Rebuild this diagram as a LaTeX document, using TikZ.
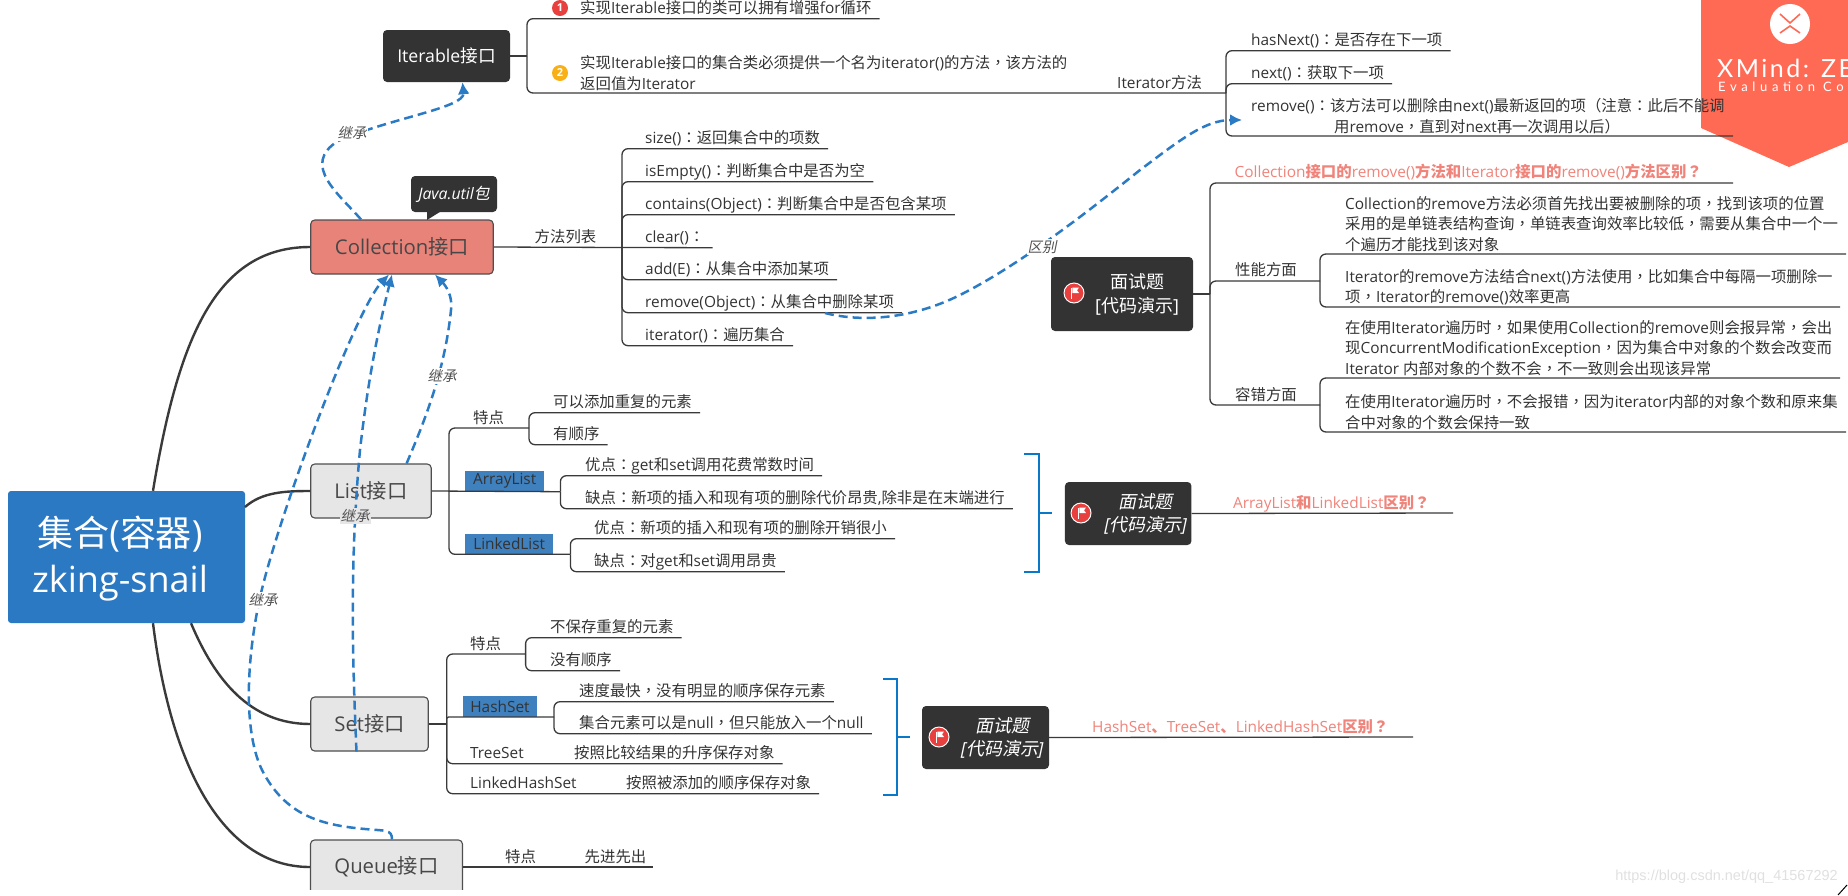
\documentclass[tikz,border=0pt]{standalone}
\usepackage{fontspec}
\usetikzlibrary{arrows.meta}
\setmainfont{Open Sans}
\newfontfamily\cjk{Noto Sans CJK SC}[AutoFakeSlant=0.2]
\newfontfamily\cjkpunct{Noto Sans CJK TC}[AutoFakeSlant=0.2]
\newfontfamily\bannerfont{Lato}[LetterSpace=10]
\newfontfamily\markfont{Liberation Sans}
\def\cjkact{\cjk}
\def\punctact{\cjkpunct}
\def\latinact{\rmfamily}
\chardef\cjkclass=200
\chardef\punctclass=201
\newcount\cjkcode
\cjkcode="3000
\loop\XeTeXcharclass\cjkcode=\cjkclass\advance\cjkcode by 1 \ifnum\cjkcode<"A000 \repeat
\cjkcode="FF00
\loop\XeTeXcharclass\cjkcode=\punctclass\advance\cjkcode by 1 \ifnum\cjkcode<"FFF0 \repeat
\XeTeXinterchartokenstate=1
\XeTeXinterchartoks 0 \cjkclass={\cjkact}
\XeTeXinterchartoks 4095 \cjkclass={\cjkact}
\XeTeXinterchartoks \punctclass \cjkclass={\cjkact}
\XeTeXinterchartoks 0 \punctclass={\punctact}
\XeTeXinterchartoks 4095 \punctclass={\punctact}
\XeTeXinterchartoks \cjkclass \punctclass={\punctact}
\XeTeXinterchartoks \cjkclass 0 ={\latinact}
\XeTeXinterchartoks \cjkclass 4095 ={\latinact}
\XeTeXinterchartoks \punctclass 0 ={\latinact}
\XeTeXinterchartoks \punctclass 4095 ={\latinact}
\definecolor{rootblue}{HTML}{2B79C2}
\definecolor{topicgray}{HTML}{E6E6E6}
\definecolor{collred}{HTML}{E8837A}
\definecolor{boxdark}{HTML}{333333}
\definecolor{tagblue}{HTML}{3F80BE}
\definecolor{arrowblue}{HTML}{2B7BC4}
\definecolor{bracketblue}{HTML}{0A78C8}
\definecolor{linedark}{HTML}{3A3A3A}
\definecolor{textdark}{HTML}{333333}
\definecolor{headred}{HTML}{F0837A}
\definecolor{bannerred}{HTML}{FF6A55}
\definecolor{flagred}{HTML}{E8403F}
\definecolor{markorange}{HTML}{F8B016}
\tikzset{
  leaf/.style={anchor=west,inner xsep=0pt,inner ysep=4.7pt,text height=11.6pt,text depth=0pt,text=textdark,font=\fontsize{15.4}{20.5}\selectfont},
  leafm/.style={anchor=west,inner sep=0pt,align=left,text=textdark,font=\fontsize{15.4}{20.5}\selectfont},
  redhead/.style={leaf,text=headred,font=\fontsize{15.4}{20.5}\selectfont\def\cjkact{\cjk\bfseries}\def\punctact{\cjkpunct\bfseries}\def\latinact{\rmfamily\mdseries}},
  branch/.style={draw=linedark,line width=1.3pt,rounded corners=6pt},
  trunk/.style={draw=linedark,line width=2.4pt},
  topic/.style={rectangle,draw=linedark!90,line width=1.1pt,rounded corners=4pt,fill=topicgray,inner sep=0pt,text=textdark!90,font=\fontsize{20.3}{24}\selectfont},
  darkbox/.style={rectangle,rounded corners=4pt,fill=boxdark,inner sep=0pt},
  whitetext/.style={text=white,align=center,inner sep=0pt,font=\fontsize{18}{23.5}\selectfont},
  tag/.style={rectangle,fill=tagblue,inner sep=0pt,text=textdark,font=\fontsize{15.4}{20.5}\selectfont},
  inherit/.style={draw=arrowblue,line width=2.5pt,dash pattern=on 9pt off 5pt,-{Latex[length=12pt,width=12pt]}},
  inheritlabel/.style={inner sep=1pt,text=textdark!85,font=\fontsize{14.5}{18}\selectfont\itshape},
  bracket/.style={draw=bracketblue,line width=2.6pt},
  flagmark/.style={circle,fill=flagred,draw=white,line width=1pt,minimum size=20pt,inner sep=0pt},
  nummark/.style={circle,text=white,minimum size=16pt,inner sep=0pt,font=\fontsize{11}{11}\selectfont\bfseries},
}
\begin{document}
\begin{tikzpicture}[x=1pt,y=-1pt]
\useasboundingbox (0,0) rectangle (1848,895);

\fill[bannerred] (1701,0) -- (1701,128) -- (1789,167) -- (1848,142) -- (1848,0) -- cycle;
\node (logo) [circle,fill=white,minimum size=40pt,inner sep=0pt] at (1790,24) {};
\draw[bannerred,line width=1.6pt] (1780,14) -- (1790,23) -- (1800,14);
\draw[bannerred,line width=1.6pt] (1780,33) -- (1790,26) -- (1800,33);
\node (bannertitle) [anchor=west,inner sep=0pt,text=white,font=\bannerfont\fontsize{25}{25}\selectfont] at (1717,68) {XMind: ZEN};
\node (bannersub) [anchor=west,inner sep=0pt,text=white,font=\bannerfont\fontsize{13}{14}\selectfont\addfontfeature{LetterSpace=36}] at (1718,88) {Evaluation Copy};

\node (root) [rectangle,rounded corners=3pt,fill=rootblue,minimum width=237pt,minimum height=132pt,inner sep=0pt] at (126.5,557) {};
\node (rootlabel) [text=white,align=center,inner sep=0pt,font=\fontsize{36}{46}\selectfont] at (120,558.5) {集合(容器)\\zking-snail};

\node (iterable) [darkbox,minimum width=127pt,minimum height=52pt,text=white,font=\fontsize{17.7}{22}\selectfont] at (446.5,56) {Iterable接口};
\node (coll) [topic,fill=collred,minimum width=182.5pt,minimum height=54pt] at (402,247) {Collection接口};
\node (list) [topic,minimum width=120.5pt,minimum height=54pt] at (371,491) {List接口};
\node (set) [topic,minimum width=117.5pt,minimum height=54pt] at (369.5,724) {Set接口};
\node (queue) [topic,minimum width=152pt,minimum height=54pt] at (386.5,867) {Queue接口};
\fill[white] (300,890) rectangle (480,895);

\node (javanote) [darkbox,minimum width=86pt,minimum height=36pt,text=white,font=\fontsize{15.8}{20}\selectfont\itshape] at (454,194) {Java.util包};
\fill[boxdark] (427,220) -- (427,210) -- (443,210) -- cycle;

\draw[trunk] ([xshift=26.5pt]root.north) .. controls (178,340) and (215,247) .. (coll.west);
\draw[trunk] ([xshift=118.5pt,yshift=50pt]root.center) .. controls (262,492) and (285,491) .. (list.west);
\draw[trunk] ([xshift=64.5pt]root.south) .. controls (215,680) and (250,724) .. (set.west);
\draw[trunk] ([xshift=26.5pt]root.south) .. controls (170,760) and (220,867) .. (queue.west);

% Iterable
\coordinate (itfork) at (527,56);
\coordinate (iterfork) at (1226,93);
\node (mark1) [nummark,fill=flagred] at (560,8) {1};
\node (mark2) [nummark,fill=markorange] at (560,73) {2};
\node (iterone) [leaf] at (580,8) {实现Iterable接口的类可以拥有增强for循环};
\node (itertwo) [leafm] at (580,73) {实现Iterable接口的集合类必须提供一个名为iterator()的方法，该方法的\\返回值为Iterator};
\node (itermethods) [leaf] at (1117,83) {Iterator方法};
\draw[branch] (iterable.east) -- (itfork);
\draw[branch] (itfork) |- ([xshift=8pt]iterone.south east);
\draw[branch] (itfork) |- (iterfork);

\node (hasnext) [leaf] at (1251,40) {hasNext()：是否存在下一项};
\node (nextitem) [leaf] at (1251,73) {next()：获取下一项};
\node (removeit) [leafm] at (1251,116) {remove()：该方法可以删除由next()最新返回的项（注意：此后不能调\\\hspace*{83pt}用remove，直到对next再一次调用以后）};
\coordinate (removeend) at (1733,136);
\draw[branch] (iterfork) |- ([xshift=8pt]hasnext.south east);
\draw[branch] (iterfork) |- ([xshift=8pt]nextitem.south east);
\draw[branch] (iterfork) |- (removeend);

% Collection
\coordinate (mfork) at (622,247.5);
\node (methods) [leaf] at (534.5,237) {方法列表};
\node (msize) [leaf] at (645,138) {size()：返回集合中的项数};
\node (mempty) [leaf] at (645,171) {isEmpty()：判断集合中是否为空};
\node (mcontains) [leaf] at (645,204) {contains(Object)：判断集合中是否包含某项};
\node (mclear) [leaf] at (645,237) {clear()：};
\node (madd) [leaf] at (645,269) {add(E)：从集合中添加某项};
\node (mremove) [leaf] at (645,302) {remove(Object)：从集合中删除某项};
\node (miter) [leaf] at (645,335) {iterator()：遍历集合};
\draw[branch] (coll.east) -- (mfork);
\draw[branch] (mfork) |- ([xshift=8pt]msize.south east);
\draw[branch] (mfork) |- ([xshift=8pt]mempty.south east);
\draw[branch] (mfork) |- ([xshift=8pt]mcontains.south east);
\draw[branch] (mfork) -- ([xshift=8pt]mclear.south east);
\draw[branch] (mfork) |- ([xshift=8pt]madd.south east);
\draw[branch] (mfork) |- ([xshift=8pt]mremove.south east);
\draw[branch] (mfork) |- ([xshift=8pt]miter.south east);

% first interview question
\node (ivone) [darkbox,minimum width=142pt,minimum height=74pt] at (1122,294) {};
\node (ivonetext) [whitetext] at (1137,294.5) {面试题\\{[}代码演示{]}};
\node (flagone) [flagmark] at (1074,293) {};
\fill[white] (1071,287.5) rectangle (1072.4,298.5);
\fill[white] (1072.4,287.5) -- (1079,287.5) -- (1077,290.3) -- (1079,293) -- (1072.4,293) -- cycle;
\coordinate (ivfork) at (1210,294);
\coordinate (perffork) at (1320,281);
\coordinate (errfork) at (1320,405);
\coordinate (headend) at (1733,183);
\node (ivhead) [redhead] at (1234.5,172) {Collection接口的remove()方法和Iterator接口的remove()方法区别？};
\node (perflabel) [leaf] at (1235,270) {性能方面};
\node (errlabel) [leaf] at (1235,395) {容错方面};
\node (perfone) [leafm] at (1345,224) {Collection的remove方法必须首先找出要被删除的项，找到该项的位置\\采用的是单链表结构查询，单链表查询效率比较低，需要从集合中一个一\\个遍历才能找到该对象};
\node (perftwo) [leafm] at (1345,287) {Iterator的remove方法结合next()方法使用，比如集合中每隔一项删除一\\项，Iterator的remove()效率更高};
\node (errone) [leafm] at (1345,348) {在使用Iterator遍历时，如果使用Collection的remove则会报异常，会出\\现ConcurrentModificationException，因为集合中对象的个数会改变而\\Iterator 内部对象的个数不会，不一致则会出现该异常};
\node (errtwo) [leafm] at (1345,412) {在使用Iterator遍历时，不会报错，因为iterator内部的对象个数和原来集\\合中对象的个数会保持一致};
\coordinate (perfoneend) at (1846,254);
\coordinate (perftwoend) at (1840,307);
\coordinate (erroneend) at (1840,378);
\coordinate (errtwoend) at (1846,432);
\draw[branch] (ivone.east) -- (ivfork);
\draw[branch] (ivfork) |- (headend);
\draw[branch] (ivfork) |- (perffork);
\draw[branch] (ivfork) |- (errfork);
\draw[branch] (perffork) |- (perfoneend);
\draw[branch] (perffork) |- (perftwoend);
\draw[branch] (errfork) |- (erroneend);
\draw[branch] (errfork) |- (errtwoend);

% List
\coordinate (lfork) at (449,491.7);
\coordinate (lspecfork) at (529,428);
\coordinate (afork) at (560.4,491.7);
\coordinate (lkfork) at (570.4,554.3);
\node (lspec) [leaf] at (473,418) {特点};
\node (lspecone) [leaf] at (553,402) {可以添加重复的元素};
\node (lspectwo) [leaf] at (553,434) {有顺序};
\node (arraytag) [tag,minimum width=78.5pt,minimum height=20pt] at (504.7,481) {ArrayList};
\node (arrayone) [leaf] at (585,465) {优点：get和set调用花费常数时间};
\node (arraytwo) [leaf] at (585,498) {缺点：新项的插入和现有项的删除代价昂贵,除非是在末端进行};
\node (linktag) [tag,minimum width=87.5pt,minimum height=20pt] at (509.2,544) {LinkedList};
\node (linkone) [leaf] at (594,528) {优点：新项的插入和现有项的删除开销很小};
\node (linktwo) [leaf] at (594,561) {缺点：对get和set调用昂贵};
\draw[branch] (list.east) -- (afork);
\draw[branch] (lfork) |- (lspecfork);
\draw[branch] (lfork) |- (lkfork);
\draw[branch] (lspecfork) |- ([xshift=8pt]lspecone.south east);
\draw[branch] (lspecfork) |- ([xshift=8pt]lspectwo.south east);
\draw[branch] (afork) |- ([xshift=8pt]arrayone.south east);
\draw[branch] (afork) |- ([xshift=8pt]arraytwo.south east);
\draw[branch] (lkfork) |- ([xshift=8pt]linkone.south east);
\draw[branch] (lkfork) |- ([xshift=8pt]linktwo.south east);

\draw[bracket] (1024,454) -- (1039,454) -- (1039,572) -- (1024,572);
\draw[bracket] (1039,513) -- (1052,513);
\node (ivtwo) [darkbox,minimum width=126.5pt,minimum height=63pt] at (1128.2,513.5) {};
\node (ivtwotext) [whitetext,font=\fontsize{18}{23.5}\selectfont\itshape] at (1145.5,514) {面试题\\{[}代码演示{]}};
\node (flagtwo) [flagmark] at (1081,513) {};
\fill[white] (1078,507.5) rectangle (1079.4,518.5);
\fill[white] (1079.4,507.5) -- (1086,507.5) -- (1084,510.3) -- (1086,513) -- (1079.4,513) -- cycle;
\node (ivtwohead) [redhead] at (1233,503) {ArrayList和LinkedList区别？};
\coordinate (ivtwoend) at (1453,513);
\draw[branch] (ivtwo.east) -- (ivtwoend);

% Set
\coordinate (sfork) at (446.7,724);
\coordinate (sspecfork) at (525.6,654);
\coordinate (hfork) at (554,717);
\node (sspec) [leaf] at (470,644) {特点};
\node (sspecone) [leaf] at (550,627) {不保存重复的元素};
\node (sspectwo) [leaf] at (550,660) {没有顺序};
\node (hashtag) [tag,minimum width=74pt,minimum height=21pt] at (500,706.5) {HashSet};
\node (hashone) [leaf] at (579,691) {速度最快，没有明显的顺序保存元素};
\node (hashtwo) [leaf] at (579,723) {集合元素可以是null，但只能放入一个null};
\node (treeset) [leaf] at (470,753) {TreeSet};
\node (treetext) [leaf] at (574,753) {按照比较结果的升序保存对象};
\node (lhset) [leaf] at (470,783) {LinkedHashSet};
\node (lhtext) [leaf] at (626,783) {按照被添加的顺序保存对象};
\draw[branch] (set.east) -- (sfork);
\draw[branch] (sfork) |- (sspecfork);
\draw[branch,rounded corners=2pt] (sfork) |- (hfork);
\draw[branch] (sfork) |- ([xshift=8pt]treetext.south east);
\draw[branch] (sfork) |- ([xshift=8pt]lhtext.south east);
\draw[branch] (sspecfork) |- ([xshift=8pt]sspecone.south east);
\draw[branch] (sspecfork) |- ([xshift=8pt]sspectwo.south east);
\draw[branch] (hfork) |- ([xshift=8pt]hashone.south east);
\draw[branch] (hfork) |- ([xshift=8pt]hashtwo.south east);

\draw[bracket] (883,679) -- (897,679) -- (897,795) -- (883,795);
\draw[bracket] (897,737) -- (910,737);
\node (ivthree) [darkbox,minimum width=127pt,minimum height=63pt] at (985.5,737.5) {};
\node (ivthreetext) [whitetext,font=\fontsize{18}{23.5}\selectfont\itshape] at (1002,738) {面试题\\{[}代码演示{]}};
\node (flagthree) [flagmark] at (939,737) {};
\fill[white] (936,731.5) rectangle (937.4,742.5);
\fill[white] (937.4,731.5) -- (944,731.5) -- (942,734.3) -- (944,737) -- (937.4,737) -- cycle;
\node (ivthreehead) [redhead] at (1092,727) {HashSet、TreeSet、LinkedHashSet区别？};
\coordinate (ivthreeend) at (1413,737);
\draw[branch] (ivthree.east) -- (ivthreeend);

% Queue
\node (qspec) [leaf] at (505,857) {特点};
\node (qfifo) [leaf] at (584.5,857) {先进先出};
\coordinate (qend) at (653,867);
\draw[branch] (queue.east) -- (qend);

% dashed links
\coordinate (tipit) at (1242,120);
\draw[inherit] ([xshift=-41pt]coll.north) .. controls (340,195) and (300,165) .. (338,141) .. controls (390,118) and (465,108) .. ([xshift=16pt]iterable.south);
\draw[inherit] (825,313) .. controls (860,322) and (910,320) .. (960,295) .. controls (1020,265) and (1090,210) .. (1140,170) .. controls (1180,140) and (1205,120) .. (tipit);
\draw[inherit] ([xshift=5.5pt]queue.north) .. controls (392,829) and (385,831) .. (365,829) .. controls (320,825) and (285,815) .. (262,770) .. controls (245,735) and (245,670) .. (259,602) .. controls (275,525) and (355,310) .. ([xshift=-13pt]coll.south);
\draw[inherit] ([xshift=-13pt]set.south) .. controls (352,650) and (350,560) .. (360,450) .. controls (368,380) and (378,330) .. ([xshift=-10pt]coll.south);
\draw[inherit] ([xshift=35.6pt]list.north) .. controls (425,420) and (445,370) .. (451,310) .. controls (453,295) and (445,285) .. ([xshift=33pt]coll.south);

\node (inheritone) [inheritlabel,fill=white] at (352,133) {继承};
\node (inherittwo) [inheritlabel,fill=white] at (442,376) {继承};
\node (inheritthree) [inheritlabel,fill=white] at (263,600) {继承};
\node (inheritfour) [inheritlabel,fill=topicgray] at (355,516) {继承};
\node (difflabel) [inheritlabel,fill=white] at (1042,247) {区别};

\node (watermark) [anchor=east,inner sep=0pt,text=black!12,font=\markfont\fontsize{14.5}{16}\selectfont] at (1838,877) {https://blog.csdn.net/qq\_41567292};
\draw[black,line width=1pt] (1838,895) -- (1847,885);
\end{tikzpicture}
\end{document}
